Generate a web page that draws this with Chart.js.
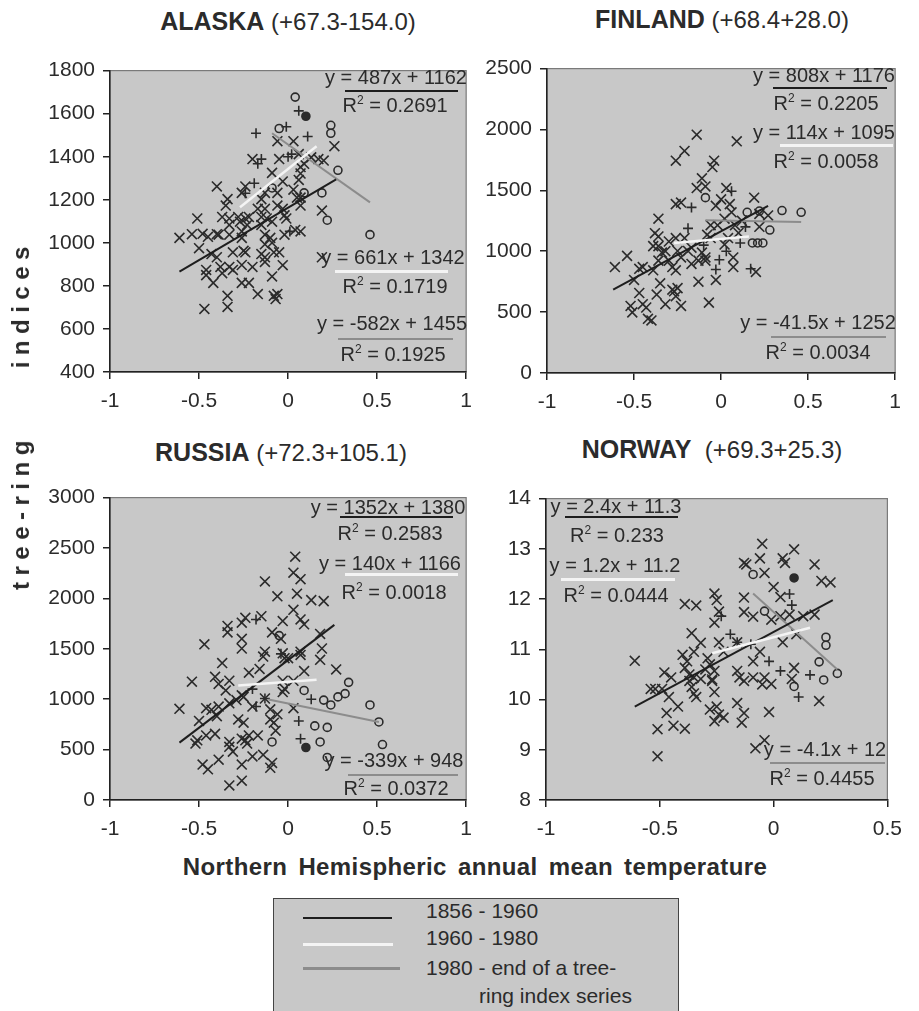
<!DOCTYPE html>
<html>
<head>
<meta charset="utf-8">
<script src="https://cdn.jsdelivr.net/npm/chart.js@4.4.0/dist/chart.umd.min.js"></script>
<style>
  body { margin: 0; background: #fff; width: 919px; height: 1011px; position: relative; overflow: hidden;
         font-family: "Liberation Sans", Arial, sans-serif; color: #2b2b2b; }
  canvas { position: absolute; }
  .t { position: absolute; transform: translate(-50%, -50%); white-space: nowrap; z-index: 2; }
  .title { font-size: 24px; }
  .title b { font-size: 25px; }
  .note { font-size: 20px; }
  .rule { position: absolute; z-index: 2; }
  sup { font-size: 0.6em; vertical-align: 0.6em; line-height: 0; }
  #legend { position: absolute; left: 273px; top: 898px; width: 404px; height: 140px;
            border: 1.5px solid #444; background: #c8c8c8; }
  .leg { position: absolute; font-size: 21px; white-space: nowrap; z-index: 2; }
</style>
</head>
<body>
<canvas id="alaska" width="452" height="372" style="left:30px;top:50px"></canvas>
<canvas id="finland" width="444" height="375" style="left:467px;top:48px"></canvas>
<canvas id="russia" width="452" height="373" style="left:30px;top:477px"></canvas>
<canvas id="norway" width="446" height="372" style="left:466px;top:478px"></canvas>

<div class="t title" style="left:288px;top:21px"><b>ALASKA</b> (+67.3-154.0)</div>
<div class="t title" style="left:722px;top:19px"><b>FINLAND</b> (+68.4+28.0)</div>
<div class="t title" style="left:281px;top:452px"><b>RUSSIA</b> (+72.3+105.1)</div>
<div class="t title" style="left:712px;top:449px"><b>NORWAY</b>&nbsp; (+69.3+25.3)</div>

<div class="t" style="left:21px;top:415px;transform:translate(-50%,-50%) rotate(-90deg);font-weight:bold;font-size:24px;letter-spacing:6.5px;white-space:pre">tree-ring     indices</div>
<div class="t" style="left:475px;top:867px;font-weight:bold;font-size:24px;letter-spacing:0.4px;word-spacing:4px">Northern Hemispheric annual mean temperature</div>

<div id="legend"></div>
<div class="rule" style="left:303px;top:917px;width:89px;height:2px;background:#1e1e1e"></div>
<div class="rule" style="left:303px;top:943px;width:90px;height:2.5px;background:#f4f4f4"></div>
<div class="rule" style="left:303px;top:967px;width:97px;height:3px;background:#8c8c8c"></div>
<div class="leg" style="left:426px;top:899px">1856 - 1960</div>
<div class="leg" style="left:426px;top:926px">1960 - 1980</div>
<div class="leg" style="left:426px;top:956px">1980 - end of a tree-</div>
<div class="leg" style="left:479px;top:984px">ring index series</div>

<script>
// ---- data: [temperature anomaly, tree-ring index] ----
// marker x = 1856-1960, + = 1960-1980, o = 1980-end, dot = single highlighted year
const ALASKA_CROSS = [[-0.61,1023],[-0.54,1040],[-0.51,1113],[-0.48,1042],[-0.5,975],[-0.45,1028],[-0.4,1262],[-0.39,1038],[-0.33,1038],[-0.46,874],[-0.46,850],[-0.42,814],[-0.47,693],[-0.34,754],[-0.34,702],[-0.43,948],[-0.4,933],[-0.38,888],[-0.33,888],[-0.31,874],[-0.37,859],[-0.34,1203],[-0.35,1173],[-0.33,1113],[-0.33,1083],[-0.28,1120],[-0.27,1098],[-0.24,1113],[-0.23,1083],[-0.26,1053],[-0.26,1023],[-0.25,963],[-0.24,956],[-0.31,956],[-0.26,897],[-0.2,888],[-0.26,814],[-0.22,814],[-0.17,762],[-0.26,1232],[-0.24,1262],[-0.2,1389],[-0.15,1203],[-0.13,1232],[-0.09,1325],[-0.17,1158],[-0.13,1158],[-0.15,1083],[-0.12,1113],[-0.09,1098],[-0.13,1038],[-0.1,1023],[-0.13,993],[-0.09,1000],[-0.13,933],[-0.08,956],[-0.05,956],[-0.15,948],[-0.13,911],[-0.03,896],[-0.09,844],[-0.08,754],[-0.07,739],[-0.06,762],[-0.06,1472],[-0.05,1389],[0.03,1472],[-0.03,1285],[-0.06,1232],[-0.06,1173],[-0.03,1158],[-0.02,1128],[-0.01,1113],[0.03,1247],[0.05,1210],[0.07,1210],[0.07,1173],[0.06,1292],[0.07,1322],[0.07,1352],[0.09,1367],[0.06,1412],[0.13,1397],[0.17,1389],[0.2,1382],[0.26,1449],[0.19,1150],[0.04,1060],[0.07,1053],[-0.02,1038],[0.19,933],[-0.22,1120],[-0.15,1120],[-0.4,1040],[-0.37,1120]];
const ALASKA_PLUS = [[-0.18,1509],[-0.17,1367],[-0.15,1389],[-0.19,1277],[0.11,1494],[0.06,1613],[0.02,1412],[-0.01,1539],[0.01,1053],[-0.24,1230],[0.0,1400]];
const ALASKA_CIRCLE = [[0.04,1677],[-0.05,1531],[0.24,1546],[0.24,1509],[0.28,1337],[0.19,1232],[0.22,1105],[0.46,1038],[0.09,1232],[-0.09,1255]];
const ALASKA_DOT = [[0.1,1588]];
const ALASKA_TREND_1 = [[-0.61,866],[0.27,1295]];
const ALASKA_TREND_2 = [[-0.27,1165],[0.16,1449]];
const ALASKA_TREND_3 = [[-0.09,1509],[0.46,1188]];

const FINLAND_CROSS = [[-0.61,870],[-0.54,962],[-0.5,764],[-0.47,856],[-0.45,870],[-0.52,551],[-0.51,498],[-0.47,657],[-0.45,565],[-0.43,538],[-0.42,445],[-0.4,432],[-0.39,843],[-0.38,1148],[-0.36,1121],[-0.36,1267],[-0.39,1042],[-0.36,1042],[-0.34,989],[-0.36,923],[-0.35,737],[-0.37,644],[-0.32,565],[-0.26,1387],[-0.23,1400],[-0.21,1824],[-0.26,1744],[-0.14,1957],[-0.26,1108],[-0.25,1002],[-0.23,949],[-0.26,843],[-0.25,697],[-0.26,631],[-0.23,551],[-0.17,1029],[-0.17,896],[-0.13,750],[-0.14,1519],[-0.11,1599],[-0.09,1532],[-0.04,1744],[-0.05,1691],[-0.07,578],[-0.03,1373],[-0.02,1214],[-0.06,1108],[-0.09,949],[-0.03,764],[0,1426],[0.03,1519],[0.05,1387],[0.06,1320],[0.08,1214],[0.02,1055],[0.07,949],[0.07,870],[0.09,1903],[0.19,1440],[0.22,1307],[0.22,1201],[0.2,830],[0.27,1294],[-0.28,684],[-0.27,671],[-0.3,923],[-0.28,870],[-0.21,1108],[-0.19,1002],[-0.13,923],[-0.11,989],[-0.09,923],[-0.08,1135],[-0.06,1214],[0.02,1267],[0.04,1108],[-0.32,1000],[-0.3,1080],[0.1,1150],[0.12,1250]];
const FINLAND_PLUS = [[-0.19,1188],[-0.17,1360],[0.06,1493],[0.17,856],[0.11,1068],[-0.03,850],[-0.01,930],[0.03,1000],[0.14,1200],[-0.1,1050]];
const FINLAND_CIRCLE = [[-0.09,1440],[0.15,1320],[0.18,1068],[0.21,1068],[0.24,1068],[0.28,1174],[0.35,1334],[0.46,1320],[0.22,1330]];
const FINLAND_DOT = [];
const FINLAND_TREND_1 = [[-0.62,684],[0.27,1373]];
const FINLAND_TREND_2 = [[-0.27,1068],[0.16,1121]];
const FINLAND_TREND_3 = [[-0.09,1254],[0.46,1241]];

const RUSSIA_CROSS = [[-0.61,905],[-0.54,1174],[-0.47,1545],[-0.5,784],[-0.52,560],[-0.51,592],[-0.46,640],[-0.48,352],[-0.45,304],[-0.46,911],[-0.43,895],[-0.41,656],[-0.4,831],[-0.39,927],[-0.39,400],[-0.41,1222],[-0.39,1151],[-0.37,1359],[-0.34,1727],[-0.34,1663],[-0.33,144],[-0.26,192],[-0.26,352],[-0.33,576],[-0.33,528],[-0.31,480],[-0.33,1183],[-0.35,1087],[-0.33,959],[-0.29,991],[-0.26,1039],[-0.25,1023],[-0.28,799],[-0.25,767],[-0.26,608],[-0.23,560],[-0.24,592],[-0.22,640],[-0.26,1503],[-0.26,1599],[-0.26,1759],[-0.24,1807],[-0.2,432],[-0.14,448],[-0.17,640],[-0.13,1007],[-0.14,1423],[-0.13,1471],[-0.15,1823],[-0.13,2168],[-0.22,1263],[-0.2,927],[-0.1,320],[-0.09,368],[-0.1,799],[-0.08,767],[-0.07,688],[-0.09,1663],[-0.06,2021],[-0.03,1775],[-0.04,1599],[-0.03,1455],[-0.02,1407],[0,1407],[-0.03,1183],[-0.02,1103],[-0.03,1071],[0.03,1183],[0.04,2414],[0.03,2255],[0.07,2191],[0.05,2047],[0.03,1887],[0.07,1791],[0.09,1743],[0.07,1471],[0.07,1439],[0.09,1279],[0.03,911],[0.13,1983],[0.2,1973],[0.18,1647],[0.19,1503],[0.18,1391],[0.27,1295],[-0.06,850],[-0.1,900],[-0.16,1300]];
const RUSSIA_PLUS = [[0.07,608],[0.06,784],[-0.13,1007],[-0.18,927],[-0.18,1791],[-0.04,1450],[0.13,1000],[-0.2,1100]];
const RUSSIA_CIRCLE = [[0.09,1087],[-0.05,1631],[0.34,1167],[0.32,1055],[0.28,1023],[0.24,943],[0.2,991],[0.46,943],[0.51,774],[0.53,550],[0.15,735],[0.22,720],[0.18,576],[-0.09,576],[0.22,422]];
const RUSSIA_DOT = [[0.1,521]];
const RUSSIA_TREND_1 = [[-0.61,569],[0.26,1737]];
const RUSSIA_TREND_2 = [[-0.28,1135],[0.16,1193]];
const RUSSIA_TREND_3 = [[-0.11,998],[0.51,774]];

const NORWAY_CROSS = [[-0.61,10.77],[-0.54,10.21],[-0.52,10.21],[-0.49,10.21],[-0.48,10.54],[-0.45,10.44],[-0.46,10.05],[-0.47,9.73],[-0.51,9.41],[-0.51,8.87],[-0.44,9.48],[-0.39,9.42],[-0.42,9.86],[-0.4,10.89],[-0.38,10.76],[-0.39,10.63],[-0.37,10.5],[-0.37,10.37],[-0.36,10.25],[-0.35,10.12],[-0.34,10.05],[-0.35,10.44],[-0.32,10.41],[-0.36,11.32],[-0.32,11.13],[-0.35,10.95],[-0.39,11.9],[-0.34,11.87],[-0.29,10.82],[-0.28,10.7],[-0.26,10.57],[-0.27,10.37],[-0.26,10.15],[-0.28,9.8],[-0.26,9.57],[-0.25,9.86],[-0.24,9.7],[-0.22,9.64],[-0.26,12.11],[-0.25,11.98],[-0.24,11.75],[-0.26,11.53],[-0.24,11.14],[-0.22,10.95],[-0.16,11.14],[-0.13,12.03],[-0.13,11.74],[-0.09,11.65],[-0.13,12.72],[-0.12,12.69],[-0.06,12.81],[-0.05,13.1],[-0.04,12.52],[0,12.24],[0.03,12.04],[0.04,12.81],[0.05,12.72],[0.09,12.99],[0.03,11.66],[0.07,11.69],[0.13,11.66],[0.18,11.69],[0.18,12.69],[0.21,12.36],[0.25,12.33],[-0.01,11.59],[0.04,11.14],[-0.16,10.57],[-0.15,10.44],[-0.13,10.37],[-0.09,10.44],[-0.09,10.76],[-0.06,10.95],[-0.04,10.44],[-0.01,10.31],[0.09,10.63],[0.08,10.41],[0.2,9.97],[-0.16,9.93],[-0.13,9.73],[-0.14,9.54],[-0.02,9.75],[-0.04,9.19],[-0.08,9.03],[-0.27,10.4],[-0.3,10.6],[0.1,11.3],[-0.05,10.3]];
const NORWAY_PLUS = [[-0.23,11.66],[-0.19,11.3],[-0.16,11.14],[0.08,11.88],[0.03,10.57],[0.11,10.05],[0.16,10.49],[-0.02,10.76],[0.07,12.1],[-0.1,11.1]];
const NORWAY_CIRCLE = [[-0.09,12.49],[0.23,11.24],[0.23,11.08],[0.2,10.75],[0.22,10.39],[0.28,10.52],[0.09,10.26],[-0.04,11.76]];
const NORWAY_DOT = [[0.09,12.42]];
const NORWAY_TREND_1 = [[-0.61,9.86],[0.26,11.98]];
const NORWAY_TREND_2 = [[-0.27,10.92],[0.16,11.43]];
const NORWAY_TREND_3 = [[-0.09,12.11],[0.28,10.6]];

// regression labels printed in each panel (periods 1, 2, 3)
const ALASKA_EQ = ['y = 487x + 1162', 'y = 661x + 1342', 'y = -582x + 1455'];
const ALASKA_R2 = ['0.2691', '0.1719', '0.1925'];
const FINLAND_EQ = ['y = 808x + 1176', 'y = 114x + 1095', 'y = -41.5x + 1252'];
const FINLAND_R2 = ['0.2205', '0.0058', '0.0034'];
const RUSSIA_EQ = ['y = 1352x + 1380', 'y = 140x + 1166', 'y = -339x + 948'];
const RUSSIA_R2 = ['0.2583', '0.0018', '0.0372'];
const NORWAY_EQ = ['y = 2.4x + 11.3', 'y = 1.2x + 11.2', 'y = -4.1x + 12'];
const NORWAY_R2 = ['0.233', '0.0444', '0.4455'];

// ---- styling / layout ----
const INK = '#2b2b2b';
const PERIOD_COLORS = ['#1e1e1e', '#f4f4f4', '#8c8c8c'];
const PERIOD_WIDTHS = [2, 2.5, 2];
const PLOT_BG = '#c8c8c8';
const FONT = '"Liberation Sans", Arial, sans-serif';

// [eq centre x, eq centre y, rule x1, rule x2, rule y, R2 centre x, R2 centre y]
const ALASKA_NOTE_POS = [[396,77,345,458,91,395,105],[393,257,335,448,271,395,286],[392,323,338,453,339,393,354]];
const FINLAND_NOTE_POS = [[824,75,773,887,88,826,103],[824,132,780,893,145,826,161],[818,322,771,886,337,818,352]];
const RUSSIA_NOTE_POS = [[388,507,340,453,517,390,533],[390,563,345,458,574,394,592],[394,760,348,458,775,396,788]];
const NORWAY_NOTE_POS = [[616,506,565,678,517,617,535],[615,565,561,675,579,616,595],[825,749,770,885,763,822,778]];

function pts(a) { return a.map(p => ({ x: p[0], y: p[1] })); }

function markers(a, style, r, fill) {
  return { data: pts(a), pointStyle: style, pointRadius: r, borderColor: INK,
           backgroundColor: fill, borderWidth: 1.6, showLine: false };
}

function trend(a, i) {
  return { data: pts(a), showLine: true, borderColor: PERIOD_COLORS[i], borderWidth: PERIOD_WIDTHS[i],
           pointRadius: 0, fill: false };
}

const plotFrame = {
  id: 'plotFrame',
  beforeDraw(chart) {
    const { ctx, chartArea: a } = chart;
    ctx.save();
    ctx.fillStyle = PLOT_BG;
    ctx.fillRect(a.left, a.top, a.right - a.left, a.bottom - a.top);
    ctx.strokeStyle = '#7a7a7a';
    ctx.lineWidth = 1.2;
    ctx.strokeRect(a.left, a.top, a.right - a.left, a.bottom - a.top);
    ctx.restore();
  }
};

function axis(min, max, step, isX) {
  return {
    type: 'linear', min: min, max: max,
    ticks: { stepSize: step, color: INK, font: { family: FONT, size: 21 }, padding: isX ? 10 : 8,
             maxRotation: 0, autoSkip: false, callback: v => String(v) },
    grid: { drawOnChartArea: false, drawTicks: true, tickLength: 7, color: '#222', lineWidth: 1.5 },
    border: { color: '#222', width: 1.5 },
    afterFit(s) { if (isX) s.height = 50; else s.width = 80; }
  };
}

function panel(id, cross, plus, circle, dot, t1, t2, t3, xr, yr) {
  new Chart(document.getElementById(id), {
    type: 'scatter',
    data: {
      datasets: [
        trend(t2, 1), trend(t1, 0), trend(t3, 2),
        markers(dot, 'circle', 4, INK),
        markers(circle, 'circle', 4, 'rgba(0,0,0,0)'),
        markers(plus, 'cross', 5, INK),
        markers(cross, 'crossRot', 7, INK)
      ]
    },
    options: {
      responsive: false, animation: false, events: [],
      layout: { padding: { top: 10, right: 12, left: 0, bottom: 0 } },
      plugins: { legend: { display: false }, tooltip: { enabled: false } },
      scales: { x: axis(xr[0], xr[1], xr[2], true), y: axis(yr[0], yr[1], yr[2], false) }
    },
    plugins: [plotFrame]
  });
}

panel('alaska', ALASKA_CROSS, ALASKA_PLUS, ALASKA_CIRCLE, ALASKA_DOT,
      ALASKA_TREND_1, ALASKA_TREND_2, ALASKA_TREND_3, [-1, 1, 0.5], [400, 1800, 200]);
panel('finland', FINLAND_CROSS, FINLAND_PLUS, FINLAND_CIRCLE, FINLAND_DOT,
      FINLAND_TREND_1, FINLAND_TREND_2, FINLAND_TREND_3, [-1, 1, 0.5], [0, 2500, 500]);
panel('russia', RUSSIA_CROSS, RUSSIA_PLUS, RUSSIA_CIRCLE, RUSSIA_DOT,
      RUSSIA_TREND_1, RUSSIA_TREND_2, RUSSIA_TREND_3, [-1, 1, 0.5], [0, 3000, 500]);
panel('norway', NORWAY_CROSS, NORWAY_PLUS, NORWAY_CIRCLE, NORWAY_DOT,
      NORWAY_TREND_1, NORWAY_TREND_2, NORWAY_TREND_3, [-1, 0.5, 0.5], [8, 14, 1]);

// regression equation labels
function notes(eqs, r2s, pos) {
  eqs.forEach((eq, i) => {
    const p = pos[i];
    const e = document.createElement('div');
    e.className = 't note';
    e.style.left = p[0] + 'px'; e.style.top = p[1] + 'px';
    e.textContent = eq;
    document.body.appendChild(e);
    const r = document.createElement('div');
    r.className = 'rule';
    r.style.left = p[2] + 'px'; r.style.top = (p[4] - 1) + 'px';
    r.style.width = (p[3] - p[2]) + 'px'; r.style.height = PERIOD_WIDTHS[i] + 'px';
    r.style.background = PERIOD_COLORS[i];
    document.body.appendChild(r);
    const q = document.createElement('div');
    q.className = 't note';
    q.style.left = p[5] + 'px'; q.style.top = p[6] + 'px';
    q.innerHTML = 'R<sup>2</sup> = ' + r2s[i];
    document.body.appendChild(q);
  });
}
notes(ALASKA_EQ, ALASKA_R2, ALASKA_NOTE_POS);
notes(FINLAND_EQ, FINLAND_R2, FINLAND_NOTE_POS);
notes(RUSSIA_EQ, RUSSIA_R2, RUSSIA_NOTE_POS);
notes(NORWAY_EQ, NORWAY_R2, NORWAY_NOTE_POS);
</script>
</body>
</html>
